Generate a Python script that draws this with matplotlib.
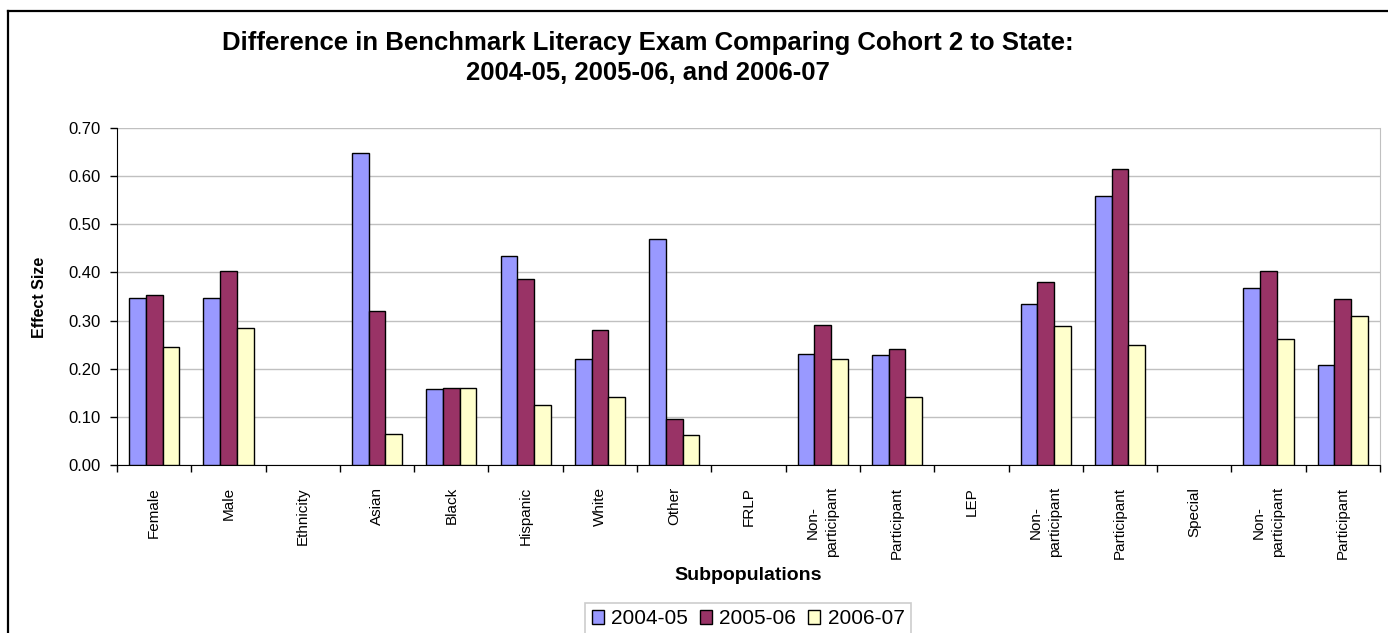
import matplotlib
matplotlib.use("Agg")
import matplotlib.pyplot as plt
import numpy as np
from matplotlib.lines import Line2D

categories = ["Female", "Male", "Ethnicity", "Asian", "Black", "Hispanic", "White",
              "Other", "FRLP", "Non-\nparticipant", "Participant", "LEP",
              "Non-\nparticipant", "Participant", "Special", "Non-\nparticipant", "Participant"]
series_names = ["2004-05", "2005-06", "2006-07"]
v2004 = [0.347, 0.347, np.nan, 0.648, 0.158, 0.435, 0.220, 0.470, np.nan, 0.230, 0.228, np.nan,
         0.335, 0.558, np.nan, 0.367, 0.208]
v2005 = [0.354, 0.402, np.nan, 0.320, 0.160, 0.387, 0.280, 0.095, np.nan, 0.290, 0.240, np.nan,
         0.380, 0.615, np.nan, 0.402, 0.345]
v2006 = [0.245, 0.285, np.nan, 0.065, 0.160, 0.124, 0.142, 0.062, np.nan, 0.220, 0.142, np.nan,
         0.288, 0.250, np.nan, 0.262, 0.310]
yticks = [0.0, 0.1, 0.2, 0.3, 0.4, 0.5, 0.6, 0.7]
colors = ["#9999FF", "#993366", "#FFFFCC"]

plt.rcParams['font.family'] = ['Liberation Sans', 'DejaVu Sans']

W, H = 1388, 633
fig = plt.figure(figsize=(W / 100, H / 100), dpi=100)
ax = fig.add_axes([117 / W, 1 - 465 / H, (1380 - 117) / W, (465 - 128) / H])

n = len(categories)
x = np.arange(n)
bw = 0.225
for i, (vals, c, name) in enumerate(zip([v2004, v2005, v2006], colors, series_names)):
    ax.bar(x + (i - 1) * bw, vals, width=bw, color=c, edgecolor="black", linewidth=1.0,
           label=name, zorder=3)

ax.set_xlim(-0.5, n - 0.5)
ax.set_ylim(0, 0.7)
ax.set_yticks(yticks)
ax.set_yticklabels([f"{t:.2f}" for t in yticks], fontsize=12)
ax.yaxis.grid(True, color="#c0c0c0", linewidth=1, zorder=0)
ax.set_axisbelow(True)

ax.set_xticks(np.arange(n + 1) - 0.5)
ax.set_xticklabels([])
ax.tick_params(axis="x", direction="out", length=5, width=1, color="black")
ax.tick_params(axis="y", direction="out", length=5, width=1, color="black", pad=7)

for xi, lab in zip(x, categories):
    ax.text(xi, -22 / 337, lab, rotation=90, ha="center", va="top", fontsize=11,
            multialignment="center", linespacing=1.5,
            transform=ax.get_xaxis_transform())

ax.spines["top"].set_visible(False)
ax.spines["right"].set_color("#c0c0c0")
ax.spines["left"].set_color("black")
ax.spines["bottom"].set_color("black")

fig.text(39 / W, 1 - 297 / H, "Effect Size", rotation=90, ha="center", va="center",
         fontsize=11.5, fontweight="bold")
fig.text(748 / W, 1 - 576 / H, "Subpopulations", ha="center", va="center",
         fontsize=14, fontweight="bold")

fig.text(648 / W, 1 - 58 / H, "Difference in Benchmark Literacy Exam Comparing Cohort 2 to State:\n2004-05, 2005-06, and 2006-07",
         ha="center", va="center", fontsize=18.5, fontweight="bold", linespacing=1.35)

leg = fig.legend(loc="upper center", bbox_to_anchor=(748 / W, 1 - 603 / H), ncol=3,
                 fontsize=15, frameon=True, fancybox=False, edgecolor="#c0c0c0",
                 handlelength=0.6, handleheight=0.6, handletextpad=0.35, columnspacing=0.55,
                 borderpad=0.3, borderaxespad=0)
leg.get_frame().set_linewidth(1.2)

# outer chart frame
fig.add_artist(Line2D([8 / W, 8 / W], [0, 1 - 11 / H], transform=fig.transFigure,
                      color="black", linewidth=1.6))
fig.add_artist(Line2D([8 / W, 1], [1 - 11 / H, 1 - 11 / H], transform=fig.transFigure,
                      color="black", linewidth=1.6))

fig.savefig("out.png", dpi=100)
